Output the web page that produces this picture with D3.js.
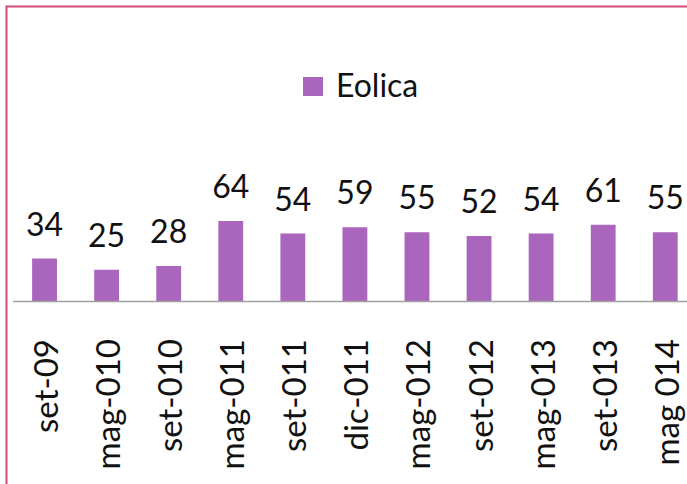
<!DOCTYPE html>
<html>
<head>
<meta charset="utf-8">
<script src="https://cdn.jsdelivr.net/npm/d3@7"></script>
<style>
  body { margin: 0; background: #fff; }
  svg { display: block; font-family: Lato, "Open Sans", sans-serif; }
</style>
</head>
<body>
<div id="chart"></div>
<script>
var categories = ["set-09", "mag-010", "set-010", "mag-011", "set-011", "dic-011", "mag-012", "set-012", "mag-013", "set-013", "mag 014"];
var eolica = [34, 25, 28, 64, 54, 59, 55, 52, 54, 61, 55];
var seriesName = "Eolica";

var width = 687, height = 484;
var barColor = "#aa65bc";
var baseY = 301;

var svg = d3.select("#chart").append("svg")
    .attr("width", width)
    .attr("height", height);

svg.append("rect")
    .attr("width", width).attr("height", height)
    .attr("fill", "#fff");

// frame of the chart (right and bottom edges are cut off)
svg.append("rect")
    .attr("x", 6.5).attr("y", 6.5)
    .attr("width", 720).attr("height", 520)
    .attr("fill", "none")
    .attr("stroke", "#d4497c")
    .attr("stroke-width", 2);

var x = d3.scaleBand()
    .domain(categories)
    .range([13.5, 696.3]);

var y = d3.scaleLinear()
    .domain([0, 80])
    .range([baseY, baseY - 100]);

var barW = x.bandwidth() * 0.4;

svg.selectAll(".bar")
    .data(eolica)
    .enter().append("rect")
    .attr("class", "bar")
    .attr("x", function(d, i) { return x(categories[i]) + x.bandwidth() / 2 - barW / 2; })
    .attr("y", function(d) { return y(d); })
    .attr("width", barW)
    .attr("height", function(d) { return baseY - y(d); })
    .attr("fill", barColor);

// value labels
svg.selectAll(".val")
    .data(eolica)
    .enter().append("text")
    .attr("class", "val")
    .attr("x", function(d, i) { return x(categories[i]) + x.bandwidth() / 2; })
    .attr("y", function(d) { return y(d) - 23; })
    .attr("text-anchor", "middle")
    .attr("font-size", 32)
    .attr("fill", "#111")
    .text(function(d) { return d; });

// category axis line
svg.append("line")
    .attr("x1", 13).attr("x2", width)
    .attr("y1", baseY + 0.5).attr("y2", baseY + 0.5)
    .attr("stroke", "#a0a0a0")
    .attr("stroke-width", 1.5);

// rotated category labels
svg.selectAll(".cat")
    .data(categories)
    .enter().append("text")
    .attr("class", "cat")
    .attr("transform", function(d) {
        return "translate(" + (x(d) + x.bandwidth() / 2 + 13.5) + ",339) rotate(-90)";
    })
    .attr("text-anchor", "end")
    .attr("font-size", 33)
    .attr("fill", "#111")
    .text(function(d) { return d; });

// legend
var legend = svg.append("g").attr("transform", "translate(303,77)");
legend.append("rect")
    .attr("width", 20).attr("height", 19)
    .attr("fill", barColor);
legend.append("text")
    .attr("x", 33).attr("y", 19.5)
    .attr("font-size", 32)
    .attr("fill", "#111")
    .text(seriesName);
</script>
</body>
</html>
